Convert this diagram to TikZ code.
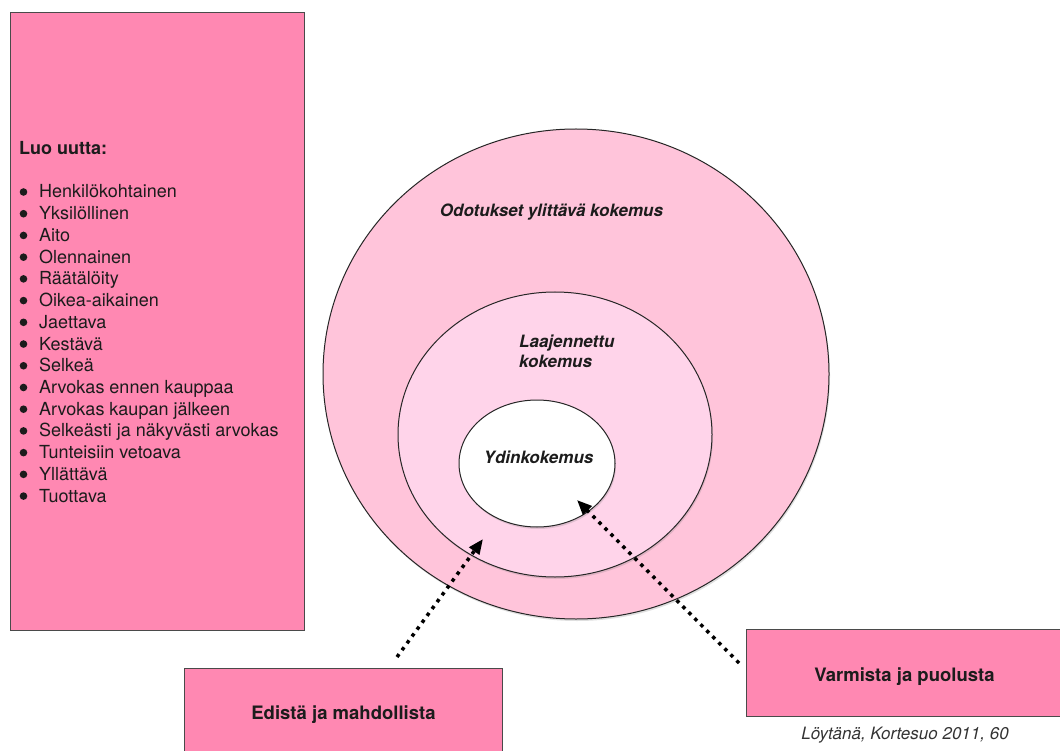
\documentclass[tikz,border=0pt]{standalone}
\usepackage{fontspec}
\setmainfont{TeX Gyre Heros}
\usepackage{xcolor}
\usepackage{tikz}
\usetikzlibrary{shapes.geometric,arrows.meta,shadows,positioning}
\definecolor{boxpink}{HTML}{FF88B2}
\definecolor{ringout}{HTML}{FFC4DA}
\definecolor{ringmid}{HTML}{FFD4EA}
\definecolor{edgegray}{HTML}{4A4A4A}
\definecolor{inkgray}{HTML}{1C1C1C}
\tikzset{>={Triangle[length=15pt,width=12pt]}}

\begin{document}
\begin{tikzpicture}[x=1pt, y=-1pt,
                    pinkbox/.style={draw=edgegray, line width=1pt, fill=boxpink, rectangle, inner sep=0pt},
                    ring/.style={draw=black!85, line width=1pt, ellipse, inner sep=0pt,
                                 drop shadow={shadow xshift=1pt, shadow yshift=-2pt, opacity=.25}},
                    ringlabel/.style={font=\fontsize{17}{20}\selectfont\bfseries\itshape, text=inkgray, inner sep=0pt},
                    boxlabel/.style={font=\fontsize{18.5}{22}\selectfont\bfseries, text=inkgray, inner sep=0pt},
                    listitem/.style={font=\fontsize{18}{21.7}\selectfont, text=inkgray, inner sep=0pt, anchor=base west},
                    dotarrow/.style={->, line width=3.5pt, dash pattern=on 3.5pt off 5pt},
                   ]

\fill[white] (0,0) rectangle (1060,751);
\useasboundingbox (0,0) rectangle (1060,751);

% left box with the list
\node[pinkbox, minimum width=294pt, minimum height=617pt] (luo) at (157,321.5) {};
\node[listitem, font=\fontsize{18}{21.7}\selectfont\bfseries] (luotitle) at (19,155) {Luo uutta:};
\foreach \txt [count=\i] in {Henkilökohtainen, Yksilöllinen, Aito, Olennainen, Räätälöity,
                             Oikea-aikainen, Jaettava, Kestävä, Selkeä, Arvokas ennen kauppaa,
                             Arvokas kaupan jälkeen, Selkeästi ja näkyvästi arvokas,
                             Tunteisiin vetoava, Yllättävä, Tuottava}
  {
  \node[listitem] (item\i) at (39,198+21.72*\i-21.72) {\txt};
  \fill[inkgray] (item\i.base west) ++(-15.5,-6) circle (3.8);
  }

% the three experiences
\node[ring, fill=ringout, minimum width=506pt, minimum height=490pt] (outer) at (576,374) {};
\node[ring, fill=ringmid, minimum width=314pt, minimum height=285pt] (middle) at (555,434.5) {};
\node[ring, fill=white, minimum width=156pt, minimum height=127pt] (core) at (537,463.5) {};

\node[ringlabel, anchor=base] (outertxt) at (551.5,217) {Odotukset ylittävä kokemus};
\node[ringlabel, anchor=base west, align=left] (midtxt) at (519,367) {Laajennettu\\kokemus};
\node[ringlabel, anchor=base] (coretxt) at (538.5,463) {Ydinkokemus};

% bottom boxes
\node[pinkbox, minimum width=318pt, minimum height=87pt] (edista) at (343,711.5) {};
\node[boxlabel, anchor=base] (edistatxt) at (343.5,719) {Edistä ja mahdollista};
\node[pinkbox, minimum width=316pt, minimum height=87pt] (varmista) at (904,672.5) {};
\node[boxlabel, anchor=base] (varmistatxt) at (904.5,681) {Varmista ja puolusta};
\node[font=\fontsize{17}{20}\selectfont\itshape, text=black!80, inner sep=0pt, anchor=base] (source) at (905,739) {Löytänä, Kortesuo 2011, 60};

% dotted arrows
\coordinate (edfrom) at (397,657);
\coordinate (edto) at (483,539);
\coordinate (vafrom) at (739,663);
\coordinate (vato) at (577,500);
\draw[dotarrow] (edfrom) -- (edto);
\draw[dotarrow] (vafrom) -- (vato);

\end{tikzpicture}
\end{document}
